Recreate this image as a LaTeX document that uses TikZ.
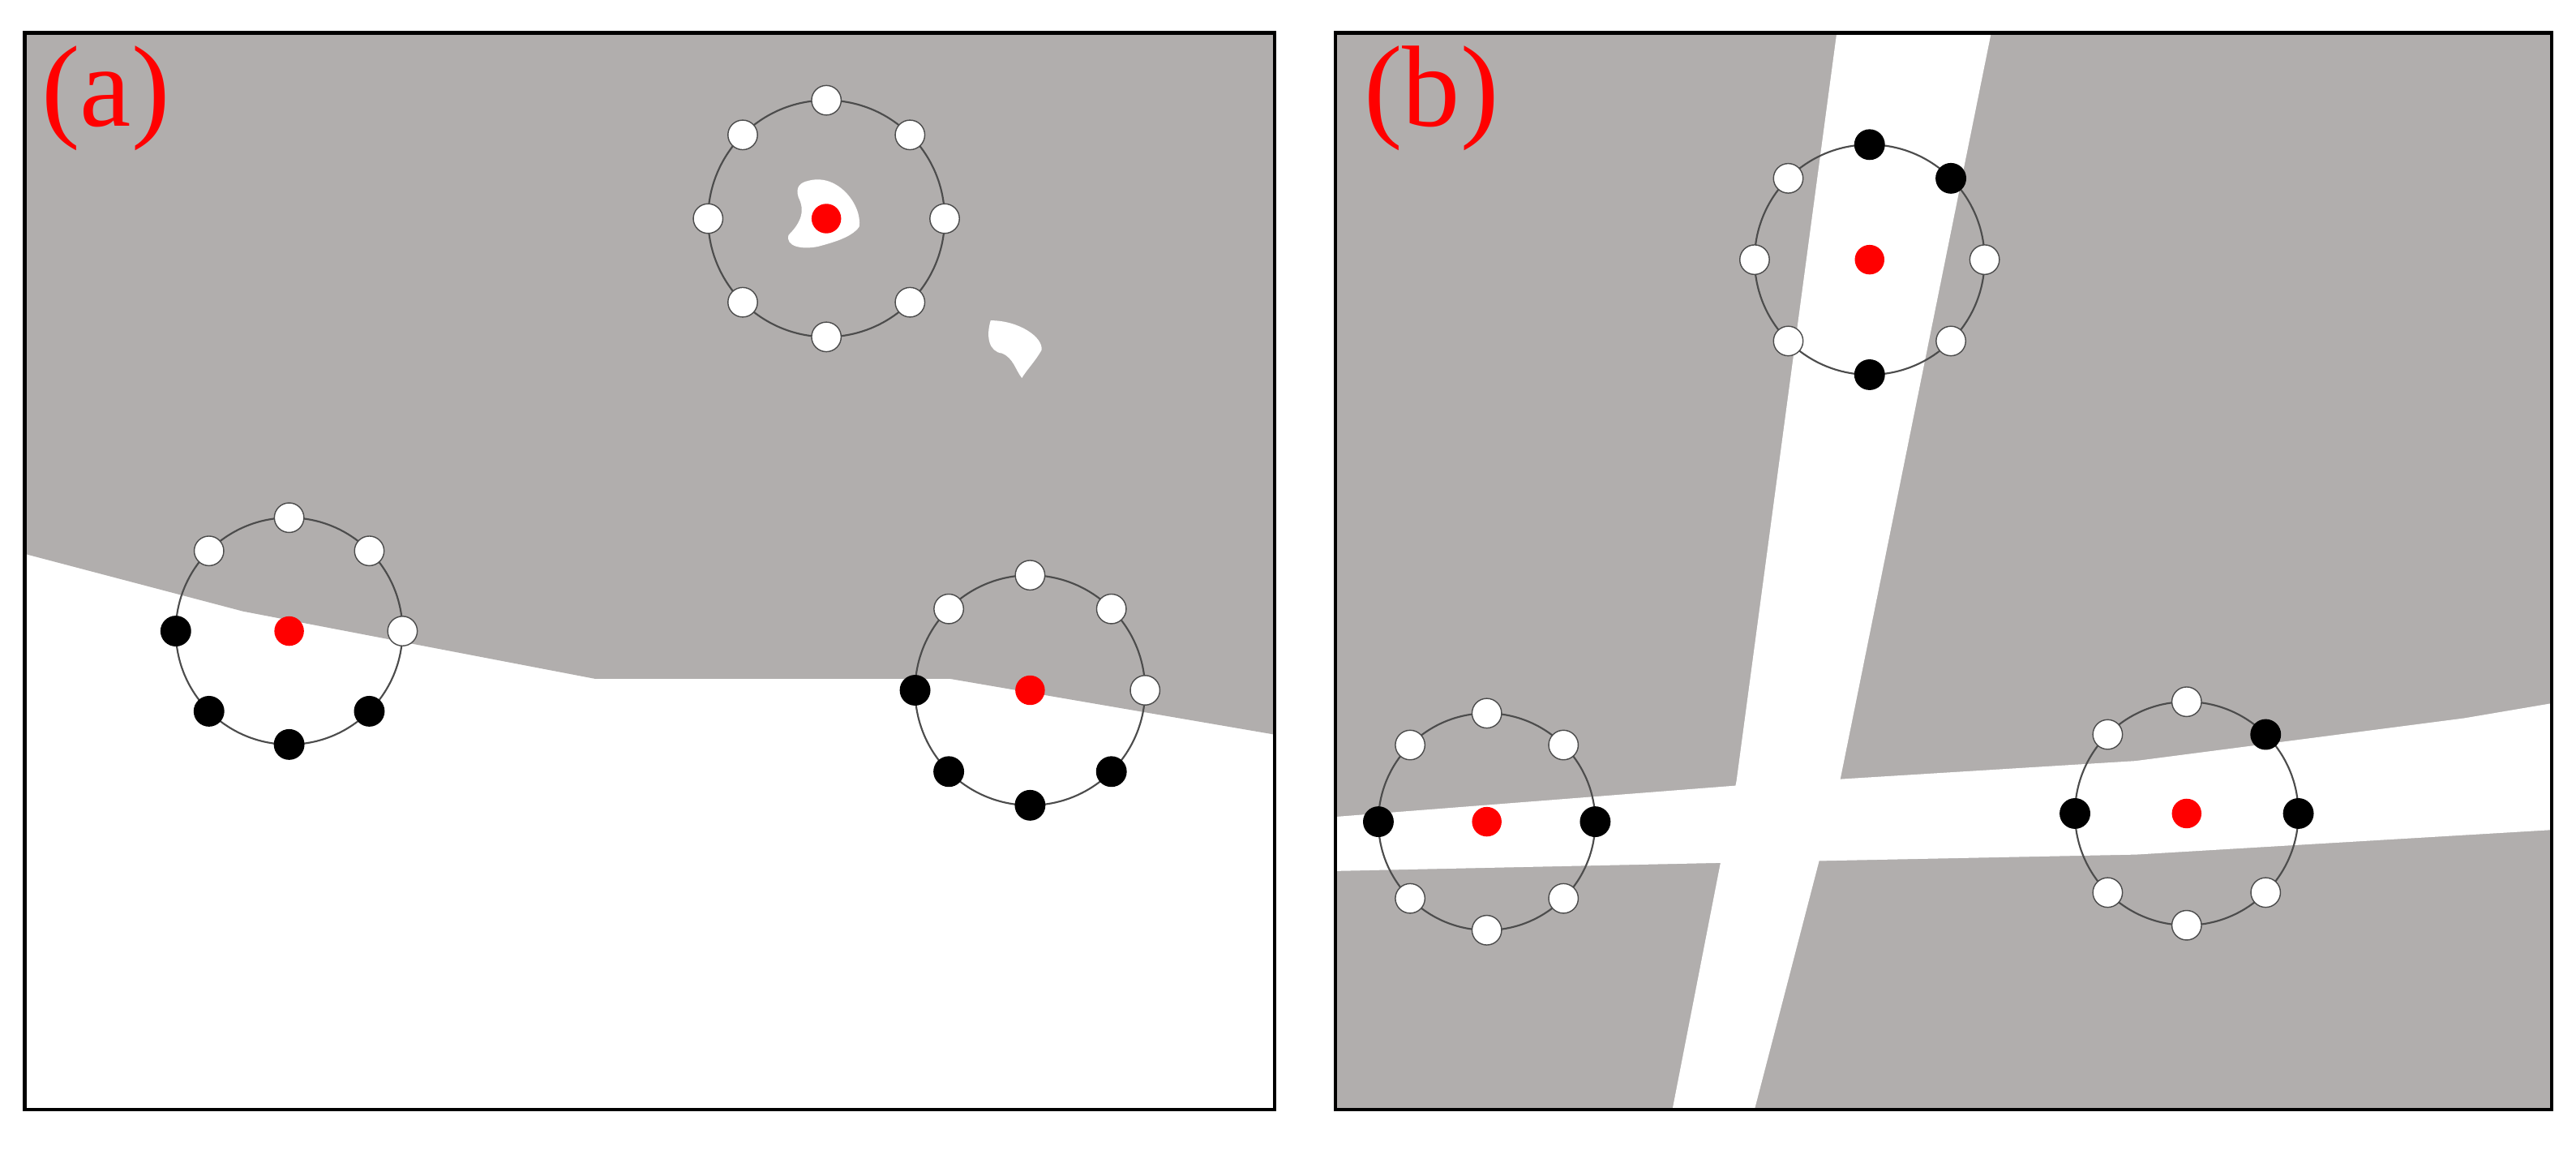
\documentclass[tikz,border=0pt]{standalone}
\usepackage{fontspec}
\setmainfont{Liberation Serif}
\definecolor{bg}{HTML}{B1AEAD}
\definecolor{rd}{HTML}{FF0000}
\begin{document}
\begin{tikzpicture}[x=0.02cm,y=-0.02cm,
  wd/.style={circle,draw=black!70,line width=0.4pt,fill=white,minimum size=0.36cm,inner sep=0},
  bd/.style={circle,draw=black,fill=black,minimum size=0.36cm,inner sep=0},
  cd/.style={circle,fill=rd,minimum size=0.36cm,inner sep=0},
  ring/.style={draw=black!70,line width=0.6pt},
  frame/.style={draw=black,line width=1.2pt},
  lab/.style={text=rd,font=\fontsize{40}{40}\selectfont,inner sep=0}]
\useasboundingbox (0,0) rectangle (1568,702.5);
% panel a
\fill[bg] (15,20) -- (776,20) -- (776,447) -- (578,413) -- (362,413) -- (148,372) -- (15,337) -- cycle;
\fill[white] (492,110) .. controls (510,105) and (525,125) .. (523,138) .. controls (518,145) and (505,148) .. (498,150) .. controls (488,152) and (478,150) .. (480,143) .. controls (488,135) and (490,128) .. (486,120) .. controls (484,114) and (487,111) .. (492,110) -- cycle;
\fill[white] (603,195) .. controls (620,195) and (635,205) .. (634,213) .. controls (630,220) and (625,225) .. (622,230) .. controls (618,225) and (617,218) .. (610,215) .. controls (602,214) and (600,205) .. (603,195) -- cycle;
\draw[frame] (15,20) rectangle (776,675);
\node[lab,anchor=west] (la) at (25,60) {(a)};
% panel b
\fill[bg] (813,20) rectangle (1553,675);
\fill[white] (1118,20) -- (1212,20) -- (1120,475) -- (1068,675) -- (1018,675) -- (1057,475) -- cycle;
\fill[white] (813,497) -- (1057,478) -- (1300,463) -- (1500,437) -- (1553,428) -- (1553,505) -- (1300,520) -- (1050,525) -- (813,530) -- cycle;
\draw[frame] (813,20) rectangle (1553,675);
\node[lab,anchor=west] (lb) at (830,60) {(b)};
% rings: name/center/radius/list of styles (E,NE,N,NW,W,SW,S,SE)
\foreach \n/\cx/\cy/\r/\s in {
  A1/503/133/72/{wd,wd,wd,wd,wd,wd,wd,wd},
  A2/176/384/69/{wd,wd,wd,wd,bd,bd,bd,bd},
  A3/627/420/70/{wd,wd,wd,wd,bd,bd,bd,bd},
  B1/1138/158/70/{wd,bd,bd,wd,wd,wd,bd,wd},
  B2/905/500/66/{bd,wd,wd,wd,bd,wd,wd,wd},
  B3/1331/495/68/{bd,bd,wd,wd,bd,wd,wd,wd}} {
  \draw[ring] (\cx,\cy) circle[radius=\r*0.02cm];
  \foreach \st [count=\i from 0] in \s {
    \node[\st] (\n-\i) at ({\cx+\r*cos(45*\i)},{\cy-\r*sin(45*\i)}) {};
  }
  \node[cd] (\n-c) at (\cx,\cy) {};
}
\end{tikzpicture}
\end{document}
